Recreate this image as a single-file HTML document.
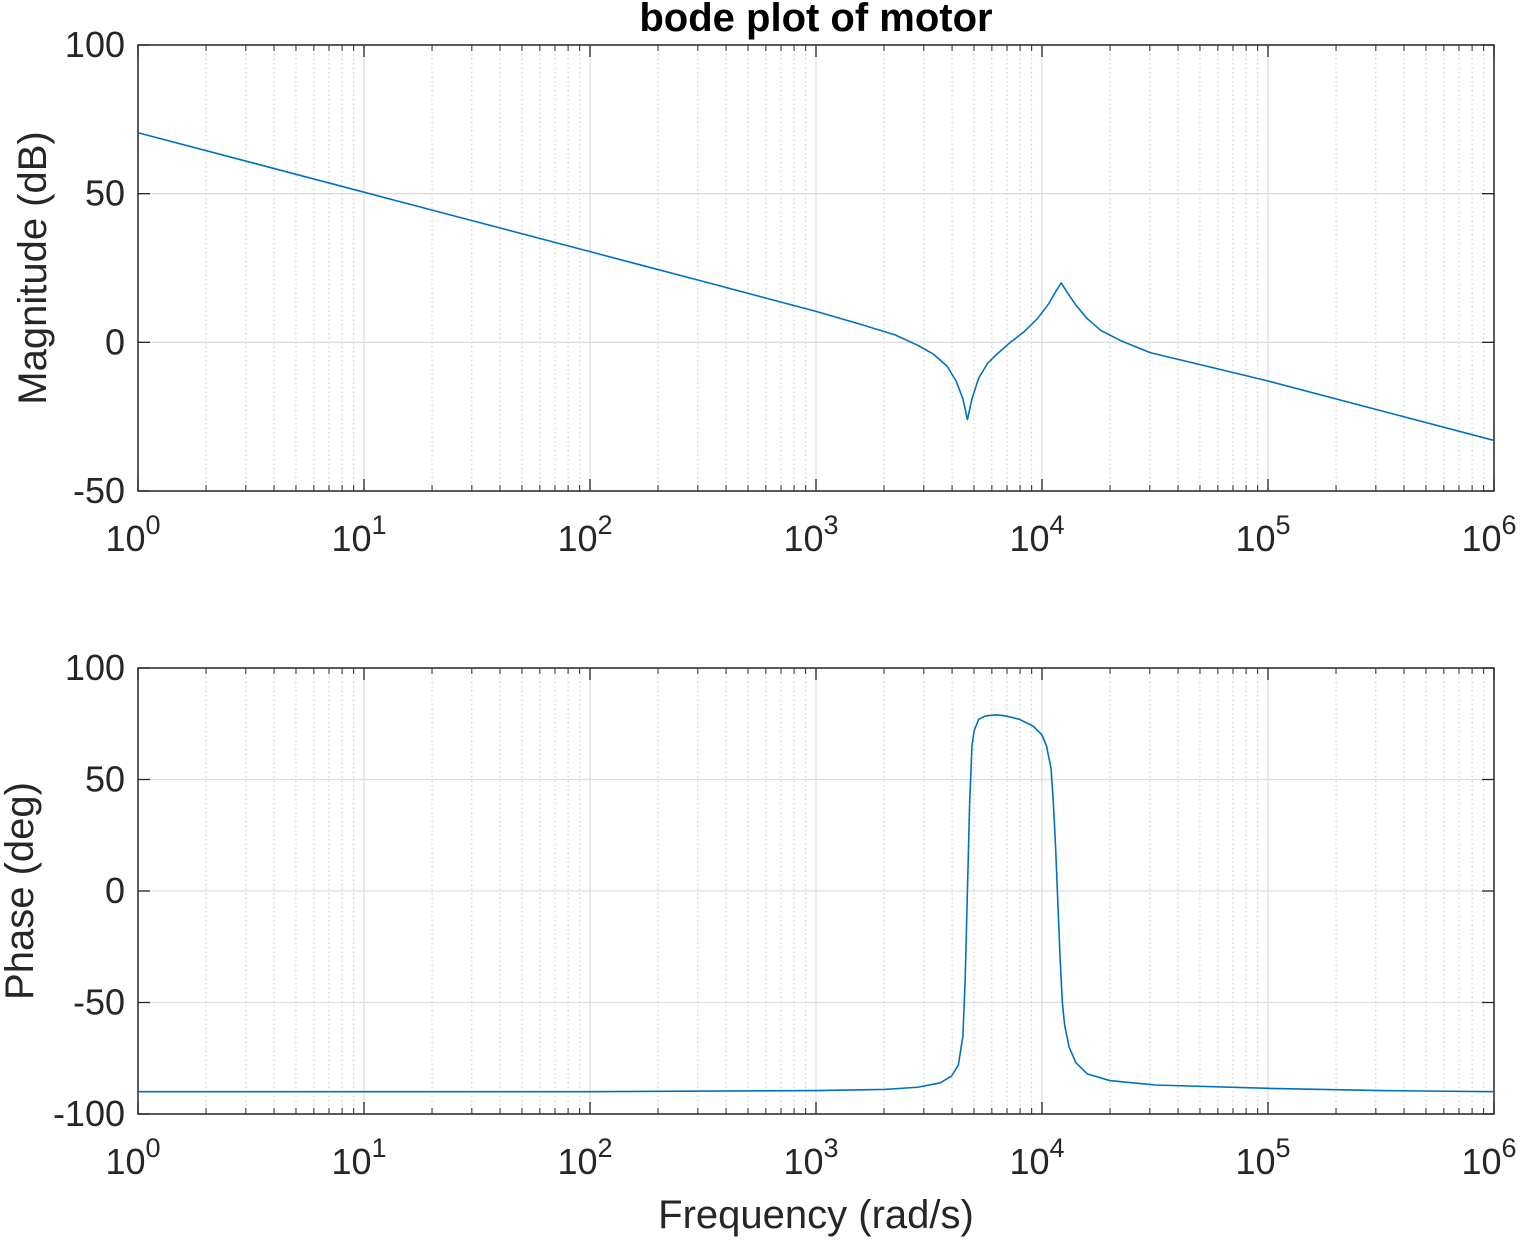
<!DOCTYPE html>
<html><head><meta charset="utf-8"><style>
body{margin:0;background:#fff}
svg{display:block;font-family:"Liberation Sans",Arial,sans-serif}
</style></head><body>
<svg id="c" width="1524" height="1240"></svg>
<script>
// data (log10 of frequency in rad/s)
const magLogW=[0,1,2,2.5,3,3.2,3.35,3.45,3.52,3.58,3.62,3.65,3.67,3.69,3.72,3.76,3.8,3.86,3.92,3.98,4.03,4.06,4.085,4.11,4.15,4.2,4.26,4.35,4.48,4.7,5,5.5,6];
const magDb=[70.5,50.5,30.5,20.5,10.4,6,2.5,-1,-4,-8,-13,-19,-26,-19,-12,-7,-4,0,3.5,8,13,17,20,17,12.5,8,4,0.5,-3.5,-7.5,-13,-23,-33];
const phLogW=[0,1,2,3,3.3,3.45,3.55,3.6,3.63,3.65,3.66,3.67,3.68,3.69,3.7,3.72,3.75,3.8,3.84,3.9,3.96,4.0,4.02,4.04,4.05,4.06,4.07,4.08,4.09,4.1,4.12,4.15,4.2,4.3,4.5,5,5.5,6];
const phDeg=[-90,-90,-90,-89.5,-89,-88,-86,-83,-78,-65,-40,0,40,65,72,77,78.5,79,78.5,77,74,70,65,55,40,20,-5,-30,-50,-60,-70,-77,-82,-85,-87,-88.5,-89.5,-90];
const magTicks=[100,50,0,-50];
const phTicks=[100,50,0,-50,-100];
const decades=[0,1,2,3,4,5,6];

const svg=document.getElementById('c');
const NS='http://www.w3.org/2000/svg';
function mk(t,a,parent){const e=document.createElementNS(NS,t);for(const k in a)e.setAttribute(k,a[k]);(parent||svg).appendChild(e);return e;}
const X0=138,X1=1494;
const xs=l=>X0+(X1-X0)*l/6;
function panel(top,bot,ymax,ymin,ticks,lw,vals,ylabel,name){
  const ys=v=>top+(ymax-v)/(ymax-ymin)*(bot-top);
  const g=mk('g',{});
  
  
  for(let d=0;d<6;d++)for(let m=2;m<=9;m++){const x=xs(d+Math.log10(m));
    const l=mk('line',{x1:x,x2:x,y1:top,y2:bot,stroke:'#c8c8c8','stroke-width':1,'stroke-dasharray':'1.5,3'},g);
    
    mk('line',{x1:x,x2:x,y1:bot,y2:bot-6,stroke:'#262626','stroke-width':1},g);
    mk('line',{x1:x,x2:x,y1:top,y2:top+6,stroke:'#262626','stroke-width':1},g);}
  decades.forEach(d=>{const x=xs(d);
    const l=mk('line',{x1:x,x2:x,y1:top,y2:bot,stroke:'#dedede','stroke-width':1.3},g);
    
    mk('line',{x1:x,x2:x,y1:bot,y2:bot-12,stroke:'#262626','stroke-width':1.3},g);
    mk('line',{x1:x,x2:x,y1:top,y2:top+12,stroke:'#262626','stroke-width':1.3},g);
    const t=mk('text',{x:x-5,y:bot+60,'font-size':36,fill:'#262626','text-anchor':'middle'},g);
    
    t.textContent='10';const s=mk('tspan',{dy:-17,'font-size':27},t);s.textContent=String(d);});
  ticks.forEach(v=>{const y=ys(v);
    mk('line',{x1:X0,x2:X1,y1:y,y2:y,stroke:'#dedede','stroke-width':1.3},g);
    mk('line',{x1:X0,x2:X0+12,y1:y,y2:y,stroke:'#262626','stroke-width':1.3},g);
    mk('line',{x1:X1,x2:X1-12,y1:y,y2:y,stroke:'#262626','stroke-width':1.3},g);
    const t=mk('text',{x:X0-13,y:y+12,'font-size':36,fill:'#262626','text-anchor':'end'},g);
    
    t.textContent=String(v);});
  mk('rect',{x:X0,y:top,width:X1-X0,height:bot-top,fill:'none',stroke:'#262626','stroke-width':1.5},g);
  const p=mk('polyline',{points:lw.map((l,i)=>xs(l)+','+ys(vals[i])).join(' '),fill:'none',stroke:'#0072bd','stroke-width':1.6,'stroke-linejoin':'round'},g);
  
  const cy=(top+bot)/2;
  const yl=mk('text',{x:0,y:0,transform:`translate(${name==='magnitude'?46:33},${cy}) rotate(-90)`,'font-size':40,fill:'#262626','text-anchor':'middle'},g);
  
  yl.textContent=ylabel;
}
panel(45,491,100,-50,magTicks,magLogW,magDb,'Magnitude (dB)','magnitude');
panel(668,1114,100,-100,phTicks,phLogW,phDeg,'Phase (deg)','phase');
const tt=mk('text',{x:816,y:31,'font-size':40,'font-weight':'bold',fill:'#000','text-anchor':'middle'});

tt.textContent='bode plot of motor';
const xl=mk('text',{x:816,y:1228,'font-size':40,fill:'#262626','text-anchor':'middle'});

xl.textContent='Frequency (rad/s)';
</script>
</body></html>
